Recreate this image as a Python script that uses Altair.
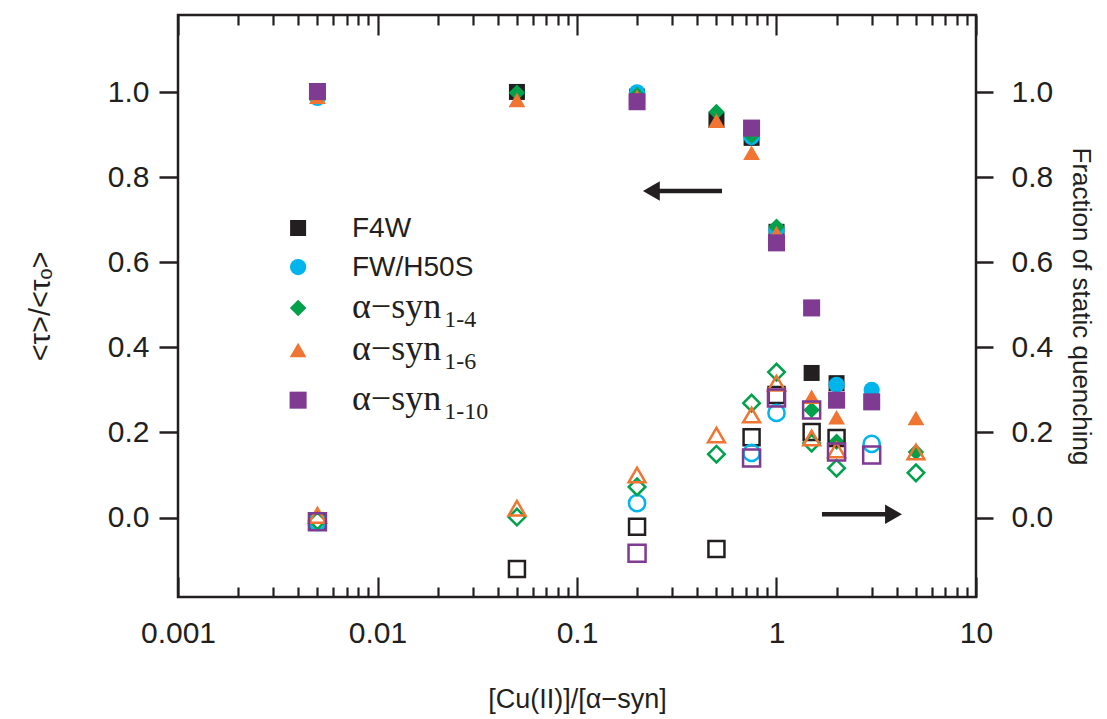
import altair as alt
import pandas as pd

# ---------------- data ----------------
SERIES = ["F4W", "FW/H50S", "α−syn1-4", "α−syn1-6", "α−syn1-10"]
COLORS = ["#231f20", "#00b4ec", "#00a14b", "#f07532", "#7f3a92"]
SHAPES = ["square", "circle", "diamond", "triangle-up", "square"]
FILLED_SIZES = [256, 290, 380, 300, 256]
OPEN_SIZES = [190, 175, 330, 215, 190]

# filled symbols: <tau>/<tau_o>  (left axis)
f4w_x_fill = [0.005, 0.05, 0.2, 0.5, 0.75, 1, 1.5, 2]
f4w_y_fill = [1.0, 1.001, 0.99, 0.935, 0.893, 0.672, 0.34, 0.316]
fwh_x_fill = [0.005, 0.2, 0.75, 1, 2, 3]
fwh_y_fill = [0.987, 1.0, 0.895, 0.676, 0.312, 0.30]
s14_x_fill = [0.05, 0.2, 0.5, 0.75, 1, 1.5, 2, 5]
s14_y_fill = [0.999, 0.994, 0.954, 0.898, 0.684, 0.253, 0.178, 0.154]
s16_x_fill = [0.005, 0.05, 0.2, 0.5, 0.75, 1, 1.5, 2, 5]
s16_y_fill = [0.99, 0.982, 0.99, 0.933, 0.858, 0.669, 0.284, 0.236, 0.234]
s110_x_fill = [0.005, 0.2, 0.75, 1, 1.5, 2, 3]
s110_y_fill = [1.002, 0.978, 0.916, 0.646, 0.493, 0.276, 0.272]

# open symbols: fraction of static quenching (right axis)
f4w_x_open = [0.005, 0.05, 0.2, 0.5, 0.75, 1, 1.5, 2]
f4w_y_open = [-0.01, -0.121, -0.022, -0.074, 0.189, 0.288, 0.201, 0.187]
fwh_x_open = [0.005, 0.2, 0.75, 1, 3]
fwh_y_open = [-0.01, 0.034, 0.152, 0.246, 0.173]
s14_x_open = [0.005, 0.05, 0.2, 0.5, 0.75, 1, 1.5, 2, 5]
s14_y_open = [-0.008, 0.001, 0.072, 0.149, 0.269, 0.342, 0.175, 0.116, 0.105]
s16_x_open = [0.005, 0.05, 0.2, 0.5, 0.75, 1, 1.5, 2, 5]
s16_y_open = [0.005, 0.022, 0.10, 0.194, 0.241, 0.316, 0.187, 0.159, 0.154]
s110_x_open = [0.005, 0.2, 0.75, 1, 1.5, 2, 3]
s110_y_open = [-0.01, -0.084, 0.14, 0.281, 0.253, 0.154, 0.147]

# axis ticks / labels
X_DECADES = [0.001, 0.01, 0.1, 1, 10]
X_MINOR = [0.002, 0.003, 0.004, 0.005, 0.006, 0.007, 0.008, 0.009,
           0.02, 0.03, 0.04, 0.05, 0.06, 0.07, 0.08, 0.09,
           0.2, 0.3, 0.4, 0.5, 0.6, 0.7, 0.8, 0.9,
           2, 3, 4, 5, 6, 7, 8, 9]
Y_TICKS = [0.0, 0.2, 0.4, 0.6, 0.8, 1.0]
X_DOMAIN = [0.001, 10]
Y_DOMAIN = [-0.187, 1.182]

# legend (placed in data space, upper-left area)
leg_marker_x = 0.004
leg_text_x = 0.00745
leg_sub_x = 0.0216
leg_y = [0.681, 0.589, 0.493, 0.394, 0.276]
leg_main = ["F4W", "FW/H50S", "α−syn", "α−syn", "α−syn"]
leg_sub = ["", "", "1-4", "1-6", "1-10"]

# arrows
arrow_tail_x = [0.533, 1.69]
arrow_head_x = [0.236, 3.86]
arrow_y = [0.768, 0.0075]
arrow_dir = ["triangle-left", "triangle-right"]

INK = "#231f20"
SANS = "Liberation Sans"
SERIF = "Liberation Serif"

# ---------------- tables ----------------
fill_sets = [(f4w_x_fill, f4w_y_fill), (fwh_x_fill, fwh_y_fill), (s14_x_fill, s14_y_fill),
             (s16_x_fill, s16_y_fill), (s110_x_fill, s110_y_fill)]
open_sets = [(f4w_x_open, f4w_y_open), (fwh_x_open, fwh_y_open), (s14_x_open, s14_y_open),
             (s16_x_open, s16_y_open), (s110_x_open, s110_y_open)]

def build(sets):
    rows = []
    for name, (xs_, ys_) in zip(SERIES, sets):
        for xv, yv in zip(xs_, ys_):
            rows.append({"series": name, "x": xv, "y": yv})
    return pd.DataFrame(rows)

filled_df = build(fill_sets)
open_df = build(open_sets)
legend_df = pd.DataFrame({"series": SERIES, "mx": [leg_marker_x] * 5, "tx": [leg_text_x] * 5,
                          "sx": [leg_sub_x] * 5, "y": leg_y, "main": leg_main, "sub": leg_sub})
arrow_df = pd.DataFrame({"x": arrow_tail_x, "x2": arrow_head_x, "y": arrow_y, "dir": arrow_dir})
tick_df = pd.DataFrame({"x": X_DECADES, "y": [0.5] * 5})

xs = alt.Scale(type="log", domain=X_DOMAIN, nice=False)
ys = alt.Scale(domain=Y_DOMAIN, nice=False, zero=False)
cs = alt.Scale(domain=SERIES, range=COLORS)
ss = alt.Scale(domain=SERIES, range=SHAPES)

x_main_axis = alt.Axis(orient="bottom", values=X_DECADES, format="~g", ticks=False, domain=False,
                       labelFontSize=30, labelPadding=21, labelFlush=False, labelOverlap=False,
                       title="[Cu(II)]/[α−syn]", titleFontSize=27, titlePadding=38)
y_left_axis = alt.Axis(orient="left", values=Y_TICKS, format=".1f", tickSize=19, tickWidth=2.5,
                       domain=False, labelFontSize=30, labelPadding=10,
                       title="<τ>/<τₒ>", titleFontSize=29, titlePadding=52)
y_right_axis = alt.Axis(orient="right", values=Y_TICKS, format=".1f", tickSize=17, tickWidth=2.5,
                        domain=False, labelFontSize=30, labelPadding=18,
                        title="Fraction of static quenching", titleFontSize=26, titlePadding=15)

def inner_ticks(orient, values, size):
    return alt.Axis(orient=orient, offset=-582, values=values, tickSize=size, tickWidth=2.2,
                    labels=False, domain=False, title=None, grid=False)

filled = alt.Chart(filled_df).mark_point(filled=True, opacity=1, strokeWidth=0).encode(
    x=alt.X("x:Q", scale=xs, axis=x_main_axis),
    y=alt.Y("y:Q", scale=ys, axis=y_left_axis),
    color=alt.Color("series:N", scale=cs, legend=None),
    shape=alt.Shape("series:N", scale=ss, legend=None),
    size=alt.Size("series:N", scale=alt.Scale(domain=SERIES, range=FILLED_SIZES), legend=None),
)

opened = alt.Chart(open_df).mark_point(filled=False, opacity=1, strokeWidth=2.5).encode(
    x=alt.X("x:Q", scale=xs, axis=inner_ticks("top", X_DECADES, 20)),
    y=alt.Y("y:Q", scale=ys, axis=y_right_axis),
    color=alt.Color("series:N", scale=cs, legend=None),
    shape=alt.Shape("series:N", scale=ss, legend=None),
    size=alt.Size("series:N", scale=alt.Scale(domain=SERIES, range=OPEN_SIZES), legend=None),
)

def tick_carrier(axis):
    return alt.Chart(tick_df).mark_point(opacity=0).encode(
        x=alt.X("x:Q", scale=xs, axis=axis),
        y=alt.Y("y:Q", scale=ys, axis=None),
    )

t_bottom_minor = tick_carrier(inner_ticks("top", X_MINOR, 10))
t_top_major = tick_carrier(inner_ticks("bottom", X_DECADES, 20))
t_top_minor = tick_carrier(inner_ticks("bottom", X_MINOR, 10))

leg_marks = alt.Chart(legend_df).mark_point(filled=True, opacity=1, strokeWidth=0).encode(
    x=alt.X("mx:Q", scale=xs, axis=None),
    y=alt.Y("y:Q", scale=ys, axis=None),
    color=alt.Color("series:N", scale=cs, legend=None),
    shape=alt.Shape("series:N", scale=ss, legend=None),
    size=alt.Size("series:N", scale=alt.Scale(domain=SERIES, range=FILLED_SIZES), legend=None),
)
leg_sans = alt.Chart(legend_df).transform_filter("datum.sub == ''").mark_text(
    align="left", baseline="middle", font=SANS, fontSize=28, color=INK, dy=1).encode(
    x=alt.X("tx:Q", scale=xs, axis=None), y=alt.Y("y:Q", scale=ys, axis=None), text="main:N")
leg_serif = alt.Chart(legend_df).transform_filter("datum.sub != ''").mark_text(
    align="left", baseline="middle", font=SERIF, fontSize=36, color=INK, dy=-1).encode(
    x=alt.X("tx:Q", scale=xs, axis=None), y=alt.Y("y:Q", scale=ys, axis=None), text="main:N")
leg_subs = alt.Chart(legend_df).transform_filter("datum.sub != ''").mark_text(
    align="left", baseline="middle", font=SERIF, fontSize=24, color=INK, dy=12).encode(
    x=alt.X("sx:Q", scale=xs, axis=None), y=alt.Y("y:Q", scale=ys, axis=None), text="sub:N")

arrow_shaft = alt.Chart(arrow_df).mark_rule(color=INK, strokeWidth=4.5).encode(
    x=alt.X("x:Q", scale=xs, axis=None), x2="x2:Q", y=alt.Y("y:Q", scale=ys, axis=None))
arrow_head = alt.Chart(arrow_df).mark_point(filled=True, opacity=1, color=INK, size=380, strokeWidth=0).encode(
    x=alt.X("x2:Q", scale=xs, axis=None), y=alt.Y("y:Q", scale=ys, axis=None),
    shape=alt.Shape("dir:N", scale=None, legend=None))

chart = alt.layer(
    filled, opened, t_bottom_minor, t_top_major, t_top_minor,
    leg_marks, leg_sans, leg_serif, leg_subs, arrow_shaft, arrow_head,
).resolve_axis(x="independent", y="independent").properties(
    width=798, height=582,
    autosize=alt.AutoSizeParams(type="none"),
    padding={"left": 178, "top": 15, "right": 131, "bottom": 122},
    background="white",
).configure_view(stroke=INK, strokeWidth=2.5).configure_axis(
    labelFont=SANS, titleFont=SANS, labelColor=INK, titleColor=INK, tickColor=INK,
    titleFontWeight="normal", grid=False,
)

chart.save("out.html", embed_options={"renderer": "svg", "actions": False})
